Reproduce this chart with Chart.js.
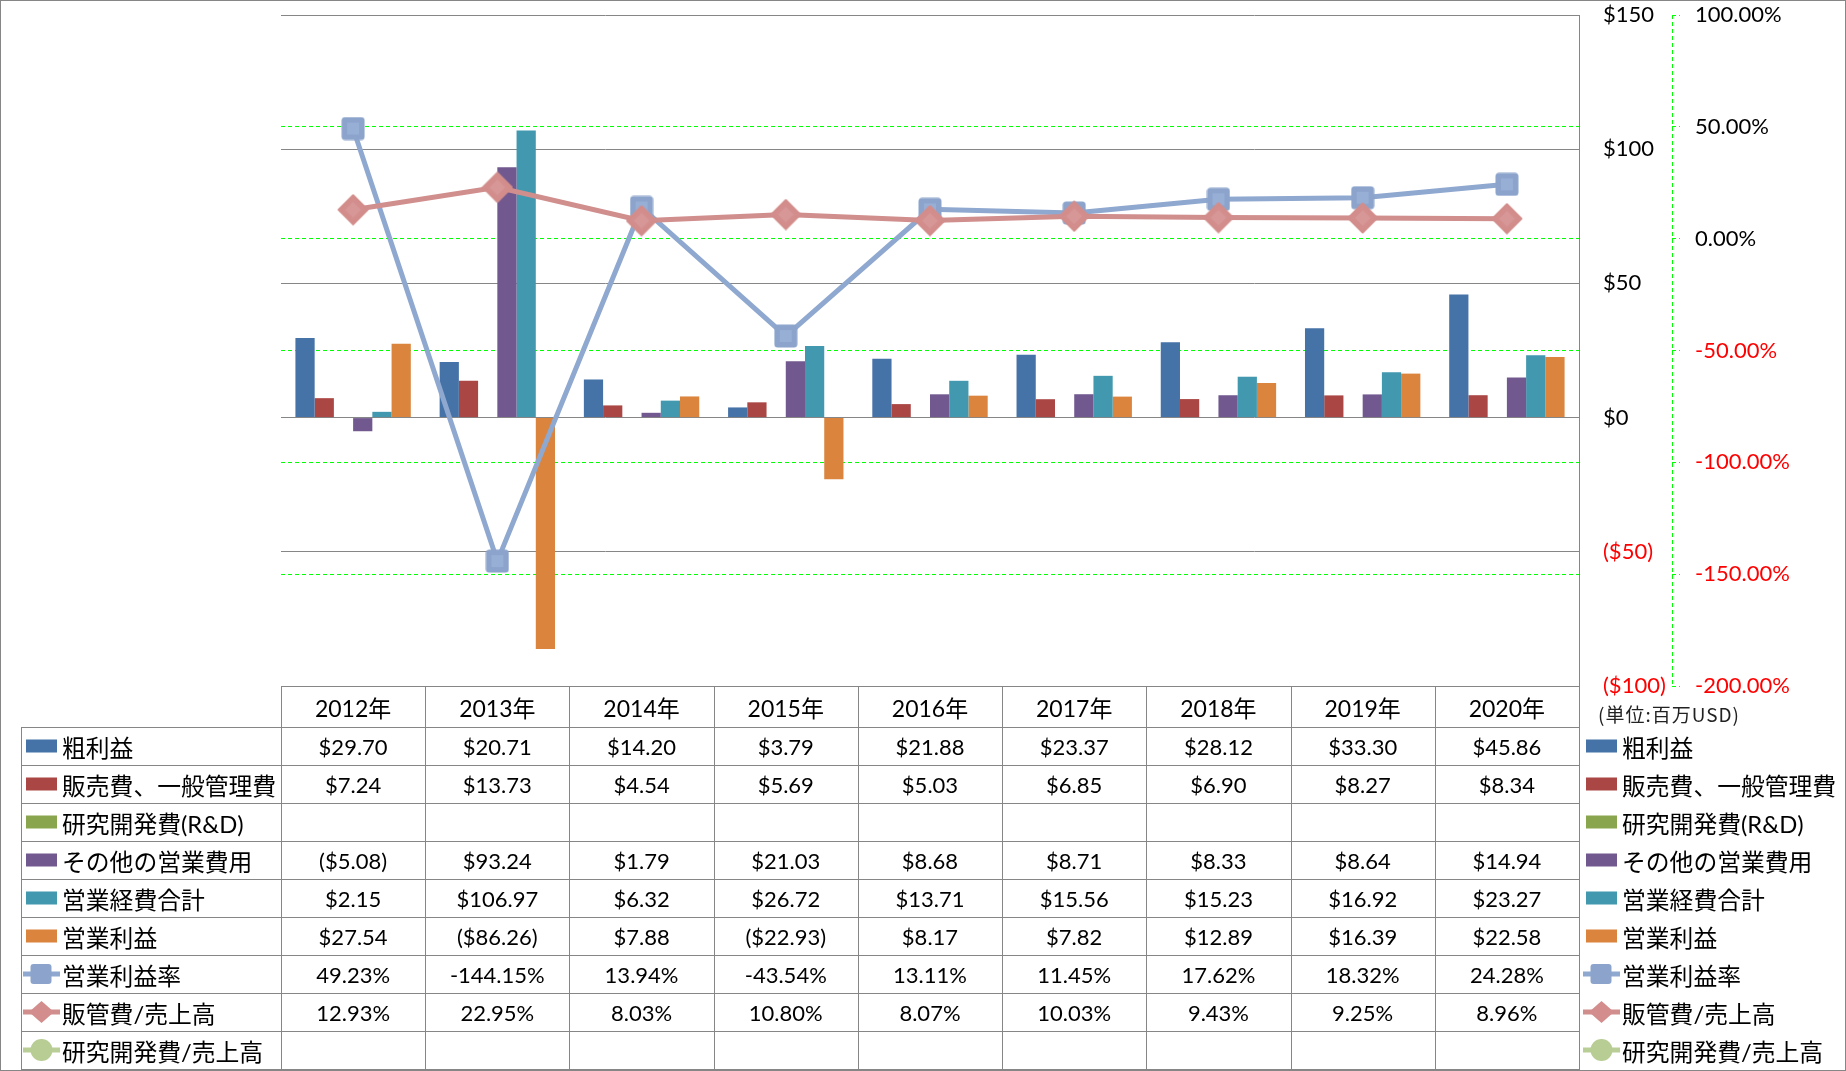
<!DOCTYPE html>
<html>
<head>
<meta charset="utf-8">
<script src="https://cdn.jsdelivr.net/npm/chart.js@4.4.0/dist/chart.umd.min.js"></script>
<style>
  body { margin: 0; background: #fff; }
  #frame { position: relative; width: 1846px; height: 1071px; overflow: hidden;
           font-family: Lato, "Noto Sans CJK JP", sans-serif; color: #000; }
  #chart { position: absolute; left: 0; top: 0; }
  #border { position: absolute; left: 0; top: 0; width: 1846px; height: 1071px;
            box-sizing: border-box; border: 1px solid #868686; pointer-events: none; }
  .ln { position: absolute; background: #868686; }
  .cell { position: absolute; display: flex; align-items: center; justify-content: center;
          font-size: 22px; white-space: nowrap; }
  .lab { position: absolute; display: flex; align-items: center; font-size: 23.8px; white-space: nowrap; }
  .key { width: 37px; height: 26px; flex: none; margin-right: 2px; }
  .unit { position: absolute; font-family: "Noto Sans CJK JP", sans-serif; font-size: 19px;
          letter-spacing: 1px; color: #222; white-space: nowrap; }
</style>
</head>
<body>
<div id="frame">
  <canvas id="chart" width="1846" height="1071"></canvas>
  <div id="table"></div>
  <div id="border"></div>
</div>
<script>
// categories
var years = ['2012年', '2013年', '2014年', '2015年', '2016年', '2017年', '2018年', '2019年', '2020年'];

// bar series (百万USD)
var grossProfit = [29.70, 20.71, 14.20, 3.79, 21.88, 23.37, 28.12, 33.30, 45.86];
var sgaExpense = [7.24, 13.73, 4.54, 5.69, 5.03, 6.85, 6.90, 8.27, 8.34];
var rndExpense = [null, null, null, null, null, null, null, null, null];
var otherOpex = [-5.08, 93.24, 1.79, 21.03, 8.68, 8.71, 8.33, 8.64, 14.94];
var totalOpex = [2.15, 106.97, 6.32, 26.72, 13.71, 15.56, 15.23, 16.92, 23.27];
var operatingIncome = [27.54, -86.26, 7.88, -22.93, 8.17, 7.82, 12.89, 16.39, 22.58];

// line series (%)
var operatingMargin = [49.23, -144.15, 13.94, -43.54, 13.11, 11.45, 17.62, 18.32, 24.28];
var sgaRatio = [12.93, 22.95, 8.03, 10.80, 8.07, 10.03, 9.43, 9.25, 8.96];
var rndRatio = [null, null, null, null, null, null, null, null, null];

var seriesNames = ['粗利益', '販売費、一般管理費', '研究開発費(R&D)', 'その他の営業費用', '営業経費合計', '営業利益',
                   '営業利益率', '販管費/売上高', '研究開発費/売上高'];

// axis ticks
var moneyMin = -100, moneyMax = 150, moneyStep = 50;
var pctMin = -200, pctMax = 100, pctStep = 50;

var barColors = ['#4572A7', '#AA4643', '#89A54E', '#71588F', '#4198AF', '#DB843D'];
var lineColors = ['#8FA8CF', '#D08E8D', '#B9CE96'];
var markerColors = ['#8CA4CC', '#D28D8C', '#B7CD93'];

function money(v) {
    if (v === null) return '';
    return v < 0 ? '($' + Math.abs(v).toFixed(2) + ')' : '$' + v.toFixed(2);
}
function pct(v) {
    if (v === null) return '';
    return v.toFixed(2) + '%';
}

// marker images
function squareMarker(fill, inner) {
    var c = document.createElement('canvas');
    c.width = 24; c.height = 24;
    var g = c.getContext('2d');
    g.fillStyle = fill;
    g.beginPath();
    g.roundRect(0.5, 0.5, 23, 23, 3.5);
    g.fill();
    g.fillStyle = inner;
    g.fillRect(6, 6, 12, 12);
    return c;
}
function diamondMarker(fill, inner) {
    var c = document.createElement('canvas');
    c.width = 32; c.height = 32;
    var g = c.getContext('2d');
    g.fillStyle = fill;
    g.strokeStyle = fill;
    g.lineJoin = 'round';
    g.lineWidth = 2;
    g.beginPath();
    g.moveTo(16, 1.5); g.lineTo(30.5, 16); g.lineTo(16, 30.5); g.lineTo(1.5, 16);
    g.closePath();
    g.fill(); g.stroke();
    g.fillStyle = inner;
    g.beginPath();
    g.moveTo(16, 8); g.lineTo(24, 16); g.lineTo(16, 24); g.lineTo(8, 16);
    g.closePath();
    g.fill();
    return c;
}

// dashed axis line for the percent axis
var pctAxisLine = {
    id: 'pctAxisLine',
    afterDraw: function(chart) {
        var s = chart.scales.y1, ctx = chart.ctx;
        var x = Math.round(s.left) + 0.5;
        ctx.save();
        ctx.strokeStyle = '#00FF00';
        ctx.lineWidth = 1;
        ctx.setLineDash([4, 3]);
        ctx.beginPath();
        ctx.moveTo(x, s.top);
        ctx.lineTo(x, s.bottom);
        ctx.stroke();
        ctx.restore();
    }
};

var barData = [grossProfit, sgaExpense, rndExpense, otherOpex, totalOpex, operatingIncome];
var datasets = barData.map(function(d, i) {
    return { label: seriesNames[i], data: d, backgroundColor: barColors[i], yAxisID: 'y', order: 10 };
});
datasets.push({
    type: 'line', label: seriesNames[6], data: operatingMargin, yAxisID: 'y1', order: 2,
    borderColor: lineColors[0], borderWidth: 5, tension: 0,
    pointStyle: squareMarker(markerColors[0], '#97AED5'), pointRadius: 12
});
datasets.push({
    type: 'line', label: seriesNames[7], data: sgaRatio, yAxisID: 'y1', order: 1,
    borderColor: lineColors[1], borderWidth: 5, tension: 0,
    pointStyle: diamondMarker(markerColors[1], '#D69796'), pointRadius: 15
});
datasets.push({
    type: 'line', label: seriesNames[8], data: rndRatio, yAxisID: 'y1', order: 0,
    borderColor: lineColors[2], borderWidth: 5, pointStyle: 'circle', pointRadius: 11,
    pointBackgroundColor: markerColors[2], pointBorderColor: markerColors[2]
});

var tickFont = { family: 'Lato', size: 22 };

// fixed widths, no extra label padding so the plot keeps the reference position
function fitWidth(w) {
    return function(s) {
        s.width = w;
        s.paddingTop = 0;
        s.paddingBottom = 0;
    };
}

var chart = new Chart(document.getElementById('chart'), {
    type: 'bar',
    data: { labels: years, datasets: datasets },
    options: {
        responsive: false,
        animation: false,
        events: [],
        layout: { autoPadding: false, padding: { left: 281, top: 15, right: 0, bottom: 385 } },
        datasets: { bar: { categoryPercentage: 0.8, barPercentage: 1.0 } },
        plugins: { legend: { display: false }, tooltip: { enabled: false } },
        scales: {
            x: { display: false, offset: true },
            y: {
                position: 'right', min: moneyMin, max: moneyMax,
                ticks: {
                    stepSize: moneyStep, padding: 24, font: tickFont,
                    color: function(c) { return c.tick.value < 0 ? '#FF0000' : '#000000'; },
                    callback: function(v) { return v < 0 ? '($' + Math.abs(v) + ')' : '$' + v; }
                },
                grid: { color: '#868686', lineWidth: 1, drawTicks: false },
                border: { display: true, color: '#868686', width: 1 },
                afterFit: fitWidth(93)
            },
            y1: {
                position: 'right', min: pctMin, max: pctMax,
                ticks: {
                    stepSize: pctStep, padding: 15, font: tickFont,
                    color: function(c) { return c.tick.value < 0 ? '#FF0000' : '#000000'; },
                    callback: function(v) { return v.toFixed(2) + '%'; }
                },
                grid: {
                    color: function(c) {
                        var v = c.tick.value;
                        return (v === pctMax || v === pctMin) ? 'rgba(0,0,0,0)' : '#00FF00';
                    },
                    tickColor: '#00FF00', tickLength: 8, tickBorderDash: [4, 3], lineWidth: 1
                },
                border: { display: false, dash: [4, 3] },
                afterFit: fitWidth(174)
            }
        }
    },
    plugins: [pctAxisLine]
});

// data table under the plot
function keyHtml(i) {
    if (i < 6) {
        return '<svg class="key" viewBox="0 0 37 26"><rect x="3" y="6.5" width="31" height="13" fill="' +
               barColors[i] + '"/></svg>';
    }
    var j = i - 6;
    var m;
    if (j === 0) m = '<rect x="7.5" y="3" width="21" height="20" rx="3" fill="' + markerColors[0] + '"/>';
    else if (j === 1) m = '<polygon points="18.5,2 31,13 18.5,24 6,13" fill="' + markerColors[1] + '"/>';
    else m = '<circle cx="18.5" cy="13" r="11" fill="' + markerColors[2] + '"/>';
    return '<svg class="key" viewBox="0 0 37 26"><line x1="0" y1="13" x2="37" y2="13" stroke="' +
           lineColors[j] + '" stroke-width="5"/>' + m + '</svg>';
}

function buildTable(chart) {
    var area = chart.chartArea;
    var box = document.getElementById('table');
    var left = Math.round(area.left), right = Math.round(area.right);
    var top = Math.round(area.bottom);
    var colW = (area.right - area.left) / years.length;
    var headH = 41, rowH = 38, labelLeft = 21;
    var rows = [grossProfit, sgaExpense, rndExpense, otherOpex, totalOpex, operatingIncome,
                operatingMargin, sgaRatio, rndRatio];
    var html = '';
    function line(x, y, w, h) {
        html += '<div class="ln" style="left:' + x + 'px;top:' + y + 'px;width:' + w + 'px;height:' + h + 'px"></div>';
    }
    var bodyTop = top + headH;
    var bottom = bodyTop + rowH * rows.length;

    // header
    years.forEach(function(y, k) {
        html += '<div class="cell" style="font-size:23px;left:' + (left + k * colW) + 'px;top:' + top +
                'px;width:' + colW + 'px;height:' + headH + 'px">' + y + '</div>';
    });
    html += '<div class="unit" style="left:1598px;top:' + (top + 14) + 'px">(単位:百万USD)</div>';

    rows.forEach(function(vals, r) {
        var y = bodyTop + r * rowH;
        var fmt = r < 6 ? money : pct;
        html += '<div class="lab" style="left:' + (labelLeft + 2) + 'px;top:' + y + 'px;height:' + rowH + 'px">' +
                keyHtml(r) + seriesNames[r] + '</div>';
        html += '<div class="lab" style="left:' + (right + 4) + 'px;top:' + y + 'px;height:' + rowH + 'px">' +
                keyHtml(r) + seriesNames[r] + '</div>';
        vals.forEach(function(v, k) {
            html += '<div class="cell" style="left:' + (left + k * colW) + 'px;top:' + y + 'px;width:' + colW +
                    'px;height:' + rowH + 'px">' + fmt(v) + '</div>';
        });
    });

    // grid lines
    line(left, top, right - left + 1, 1);
    for (var r = 0; r <= rows.length; r++) {
        line(labelLeft, bodyTop + r * rowH, right - labelLeft + 1, 1);
    }
    line(labelLeft, bodyTop, 1, bottom - bodyTop + 1);
    for (var k = 0; k <= years.length; k++) {
        line(Math.round(left + k * colW), top, 1, bottom - top + 1);
    }
    box.innerHTML = html;
}

buildTable(chart);
</script>
</body>
</html>
